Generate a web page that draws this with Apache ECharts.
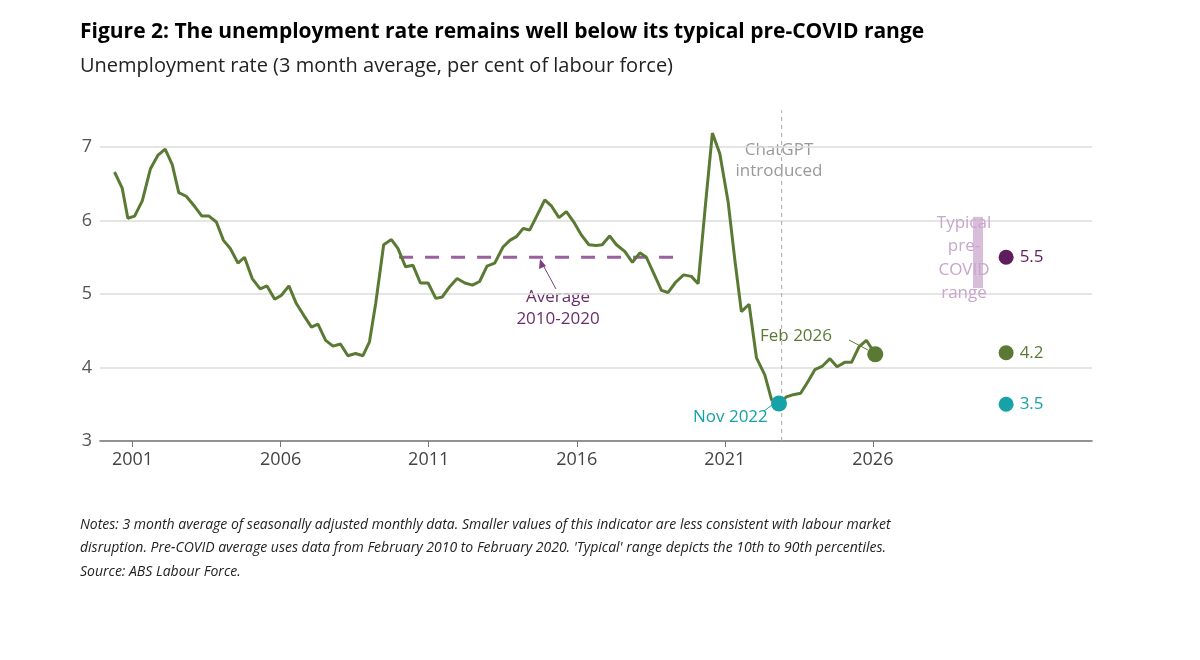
<!DOCTYPE html>
<html>
<head>
<meta charset="utf-8">
<script src="https://cdn.jsdelivr.net/npm/echarts@6/dist/echarts.min.js"></script>
<style>html,body{margin:0;background:#fff}#main{width:1200px;height:660px}</style>
</head>
<body>
<div id="main"></div>
<script>
// quarterly-ish readings, decimal years
const dates = [2000.39,2000.65,2000.84,2001.07,2001.33,2001.6,2001.86,2002.1,2002.34,2002.56,2002.81,2003.1,2003.34,2003.58,2003.83,2004.07,2004.3,2004.56,2004.78,2005.04,2005.31,2005.54,2005.8,2006.02,2006.28,2006.53,2006.78,2007.04,2007.26,2007.52,2007.77,2008.02,2008.27,2008.53,2008.78,2009.0,2009.21,2009.48,2009.74,2009.96,2010.22,2010.47,2010.72,2010.98,2011.24,2011.46,2011.71,2011.96,2012.22,2012.48,2012.72,2012.97,2013.23,2013.51,2013.74,2013.96,2014.19,2014.41,2014.66,2014.92,2015.14,2015.4,2015.65,2015.93,2016.16,2016.41,2016.66,2016.86,2017.11,2017.34,2017.62,2017.88,2018.13,2018.35,2018.6,2018.86,2019.08,2019.34,2019.61,2019.87,2020.1,2020.35,2020.58,2020.83,2021.11,2021.34,2021.56,2021.82,2022.07,2022.35,2022.58,2022.83,2023.08,2023.31,2023.56,2023.81,2024.04,2024.3,2024.55,2024.79,2025.05,2025.28,2025.53,2025.78,2026.08];
const rates = [6.66,6.44,6.03,6.06,6.27,6.70,6.89,6.97,6.76,6.38,6.33,6.19,6.06,6.06,5.98,5.73,5.62,5.42,5.50,5.21,5.07,5.11,4.93,4.98,5.11,4.87,4.71,4.55,4.59,4.37,4.29,4.32,4.16,4.19,4.16,4.35,4.87,5.67,5.74,5.62,5.37,5.39,5.15,5.15,4.94,4.96,5.10,5.21,5.15,5.12,5.17,5.38,5.42,5.64,5.73,5.78,5.89,5.87,6.07,6.28,6.20,6.04,6.12,5.96,5.80,5.67,5.66,5.67,5.79,5.67,5.58,5.43,5.56,5.50,5.28,5.05,5.02,5.16,5.26,5.24,5.14,6.23,7.19,6.91,6.26,5.46,4.76,4.86,4.13,3.90,3.56,3.51,3.60,3.63,3.65,3.81,3.97,4.02,4.12,4.01,4.07,4.07,4.28,4.37,4.18];
const avgStart = 2010.0, avgEnd = 2019.6, avgValue = 5.5;
const typicalLow = 5.08, typicalHigh = 6.05;
const summaryX = 2030.5;
const summaryValues = [5.5, 4.2, 3.5];
const summaryLabels = ['5.5', '4.2', '3.5'];
const summaryColors = ['#5e1d5c', '#5a7a34', '#17a2a8'];
const nov2022 = [2022.83, 3.51];
const feb2026 = [2026.08, 4.18];
const chatgptX = 2022.92;
const yearTicks = [2001, 2006, 2011, 2016, 2021, 2026];

const green = '#5a7a34', teal = '#17a2a8';
const chart = echarts.init(document.getElementById('main'));
const font = '"Open Sans", sans-serif';

chart.setOption({
  animation: false,
  grid: { left: 100, right: 108, top: 147, bottom: 219 },
  xAxis: {
    type: 'value', min: 1999.9, max: 2033.4,
    splitLine: { show: false },
    axisLine: { lineStyle: { color: '#777', width: 1.5 } },
    axisTick: { customValues: yearTicks, length: 6, lineStyle: { color: '#777' } },
    axisLabel: { customValues: yearTicks, formatter: v => String(v), color: '#444', fontSize: 18, fontFamily: font, margin: 10 }
  },
  yAxis: {
    type: 'value', min: 3, max: 7, interval: 1,
    axisLine: { show: false }, axisTick: { show: false },
    axisLabel: { color: '#555', fontSize: 18, fontFamily: font, margin: 8 },
    splitLine: { lineStyle: { color: '#ddd', width: 1.5 } }
  },
  series: [
    {
      type: 'line', data: [[chatgptX, 3], [chatgptX, 7.5]], symbol: 'none', clip: false,
      lineStyle: { color: '#aaa', width: 1, type: [4, 4] }, z: 1
    },
    {
      type: 'line', data: [[avgStart, avgValue], [avgEnd, avgValue]], symbol: 'none',
      lineStyle: { color: '#9b5fa0', width: 3, type: [14, 12] }, z: 2
    },
    {
      type: 'line', data: dates.map((d, i) => [d, rates[i]]), symbol: 'none', clip: false,
      lineStyle: { color: green, width: 3 }, z: 3
    },
    {
      type: 'line', data: [[summaryX - 0.95, typicalLow], [summaryX - 0.95, typicalHigh]], symbol: 'none',
      lineStyle: { color: '#d8bedb', width: 10, cap: 'butt' }, z: 2
    },
    {
      type: 'scatter', symbolSize: 15, z: 5,
      data: summaryValues.map((v, i) => ({
        value: [summaryX, v], itemStyle: { color: summaryColors[i], opacity: 1 },
        label: { show: true, position: 'right', distance: 6, formatter: summaryLabels[i], color: summaryColors[i], fontSize: 17, fontFamily: font }
      }))
    },
    {
      type: 'scatter', symbolSize: 16, z: 5,
      data: [
        { value: nov2022, itemStyle: { color: teal, opacity: 1 } },
        { value: feb2026, itemStyle: { color: green, opacity: 1 } }
      ]
    }
  ],
  graphic: [
    { type: 'text', left: 80, top: 22, style: { text: 'Figure 2: The unemployment rate remains well below its typical pre-COVID range', font: 'bold 21px ' + font, fill: '#000' } },
    { type: 'text', left: 80, top: 56, style: { text: 'Unemployment rate (3 month average, per cent of labour force)', font: '20px ' + font, fill: '#222' } },
    { type: 'text', x: 779, y: 140, style: { text: 'ChatGPT\nintroduced', font: '17px ' + font, fill: '#999', align: 'center', lineHeight: 21, backgroundColor: '#fff', padding: [0, 6] } },
    { type: 'text', x: 558, y: 286, style: { text: 'Average\n2010-2020', font: '17px ' + font, fill: '#6a2d6c', align: 'center', lineHeight: 22 } },
    { type: 'line', shape: { x1: 556, y1: 289, x2: 543, y2: 265 }, style: { stroke: '#7b3f7f', lineWidth: 1 } },
    { type: 'polygon', shape: { points: [[540, 259], [539, 269], [546, 266]] }, style: { fill: '#7b3f7f' } },
    { type: 'text', x: 760, y: 328, z: 10, style: { text: 'Feb 2026', font: '17px ' + font, fill: green } },
    { type: 'line', shape: { x1: 849, y1: 340, x2: 868, y2: 350 }, style: { stroke: green, lineWidth: 1 } },
    { type: 'text', x: 693, y: 409, style: { text: 'Nov 2022', font: '17px ' + font, fill: teal } },
    { type: 'line', shape: { x1: 764, y1: 411, x2: 772, y2: 405 }, style: { stroke: teal, lineWidth: 1 } },
    { type: 'text', x: 964, y: 211, z: 10, style: { text: 'Typical\npre-\nCOVID\nrange', font: '17px ' + font, fill: '#c9a6cc', align: 'center', lineHeight: 23.5 } },
    { type: 'text', left: 80, top: 513, style: { text: 'Notes: 3 month average of seasonally adjusted monthly data. Smaller values of this indicator are less consistent with labour market\ndisruption. Pre-COVID average uses data from February 2010 to February 2020. \'Typical\' range depicts the 10th to 90th percentiles.\nSource: ABS Labour Force.', font: 'italic 14px ' + font, fill: '#222', lineHeight: 23.5 } }
  ]
});
</script>
</body>
</html>
